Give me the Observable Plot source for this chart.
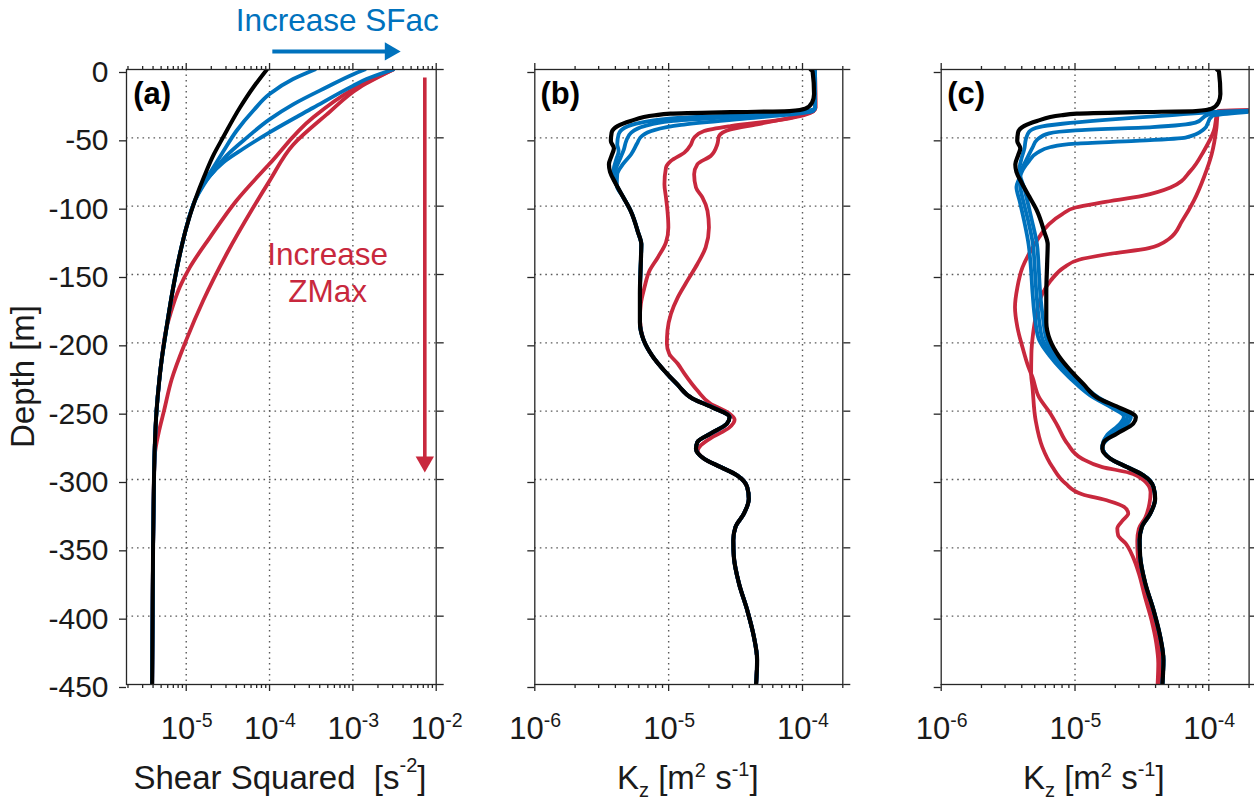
<!DOCTYPE html>
<html><head><meta charset="utf-8">
<script src="https://cdn.jsdelivr.net/npm/d3@7"></script>
<script src="https://cdn.jsdelivr.net/npm/@observablehq/plot@0.6"></script>
<style>
html,body{margin:0;padding:0;background:#fff;}
#fig{position:relative;width:1254px;height:804px;overflow:hidden;font-family:"Liberation Sans",Arial,Helvetica,sans-serif;color:#1a1a1a;background:#fff;}
.panel{position:absolute;top:0;height:804px;}
.lab{position:absolute;white-space:nowrap;font-size:33px;line-height:33px;}
.lab sup,.lab sub{font-size:20px;position:relative;vertical-align:baseline;line-height:0;}
</style></head><body><div id="fig"></div>
<script>
// ---------------- data ----------------
const depthTicks = [0, -50, -100, -150, -200, -250, -300, -350, -400, -450];
const shearExps = [-5, -4, -3, -2];
const kzExps = [-6, -5, -4];

// Panel (a): shear squared [s^-2] vs depth [m]  ([depth, value])
const shearControl = [[0,9.3e-5],[-13,6.4e-5],[-28,4.4e-5],[-50,2.75e-5],[-62,2.15e-5],[-78,1.65e-5],[-96,1.27e-5],[-116,1.0e-5],[-135,8.4e-6],[-159,7.0e-6],[-189,5.8e-6],[-213,5.06e-6],[-228,4.74e-6],[-250,4.4e-6],[-275,4.2e-6],[-300,4.1e-6],[-350,4.0e-6],[-400,3.95e-6],[-450,3.9e-6]];
const shearSFac1 = [[0,3.5e-4],[-7,1.92e-4],[-18,1.0e-4],[-30,6.4e-5],[-45,4.0e-5],[-60,2.78e-5],[-74,2.0e-5],[-84,1.57e-5]];
const shearSFac2 = [[0,1.39e-3],[-3.6,1.0e-3],[-13,4.83e-4],[-25.5,1.92e-4],[-36.5,1.0e-4],[-50,5.3e-5],[-63,3.05e-5],[-75,2.1e-5],[-84,1.6e-5]];
const shearSFac3 = [[0,3.05e-3],[-7,1.46e-3],[-12,1.0e-3],[-28,3.34e-4],[-46,1.0e-4],[-58,4.83e-5],[-68,2.78e-5],[-78,1.92e-5],[-85,1.6e-5]];
const shearZMax1 = [[0,3.05e-3],[-14.6,1.0e-3],[-35,3.35e-4],[-69,1.0e-4],[-96,4.0e-5],[-123,1.92e-5],[-145,1.1e-5],[-159,8.4e-6],[-172,7.0e-6],[-184,6.1e-6]];
const shearZMax2 = [[0,3.05e-3],[-13,1.21e-3],[-33,4.83e-4],[-55,1.92e-4],[-81.5,1.0e-4],[-101,6.37e-5],[-135,3.05e-5],[-169,1.6e-5],[-198,1.0e-5],[-227,6.67e-6],[-250,5.4e-6],[-265,4.7e-6],[-282,4.2e-6]];

// Panel (b) and (c): Kz [m^2 s^-1] vs depth [m]
const kzControl = [[0,1.15e-4],[-1.5,1.19e-4],[-18,1.22e-4],[-24,1.18e-4],[-28.7,1.05e-4],[-30.4,8.0e-5],[-31.2,2.9e-5],[-32.3,1.03e-5],[-33.5,7.9e-6],[-37.7,5.2e-6],[-41.4,4.15e-6],[-46.2,3.75e-6],[-52.3,3.7e-6],[-57.7,3.9e-6],[-63,3.75e-6],[-69.3,3.58e-6],[-75,3.65e-6],[-83,4.0e-6],[-93,4.55e-6],[-103.4,5.2e-6],[-119,5.9e-6],[-128,6.25e-6],[-140,6.2e-6],[-164,6.1e-6],[-185,6.1e-6],[-198,6.5e-6],[-210,7.6e-6],[-220,9.2e-6],[-230,1.15e-5],[-241,1.52e-5],[-247,2.1e-5],[-254.4,2.85e-5],[-259.2,2.72e-5],[-266.5,2.05e-5],[-272.6,1.64e-5],[-277.5,1.6e-5],[-284.8,1.84e-5],[-290.9,2.45e-5],[-297,3.25e-5],[-305.5,3.86e-5],[-314,3.97e-5],[-325,3.65e-5],[-334.7,3.16e-5],[-344.4,3.04e-5],[-356.6,3.07e-5],[-376,3.35e-5],[-395.5,3.86e-5],[-415,4.33e-5],[-432,4.58e-5],[-450,4.5e-5]];

const kzB_SFac1 = [[0,1.24e-4],[-28,1.24e-4],[-29.2,1.2e-4],[-32.8,5.1e-5],[-35.3,1.24e-5],[-38.9,6.24e-6],[-42.6,4.69e-6],[-47.4,4.23e-6],[-54.7,4.13e-6],[-59.6,4.23e-6],[-65.7,4.06e-6],[-71.8,3.9e-6],[-77.9,3.84e-6],[-85,4.1e-6]];
const kzB_SFac2 = [[0,1.24e-4],[-28,1.24e-4],[-30,1.2e-4],[-34,3.86e-5],[-37.7,1.04e-5],[-41.4,6.6e-6],[-46.2,5.25e-6],[-52.3,4.82e-6],[-58.4,4.63e-6],[-64.5,4.37e-6],[-71.8,4.06e-6],[-77.9,3.9e-6],[-85,4.1e-6]];
const kzB_SFac3 = [[0,1.24e-4],[-28,1.24e-4],[-30.4,1.2e-4],[-35.8,3.86e-5],[-40.6,1.24e-5],[-44.3,7.8e-6],[-49.1,6.24e-6],[-54,5.82e-6],[-62,5.25e-6],[-69.3,4.55e-6],[-76.6,4.13e-6],[-85,4.1e-6]];
const kzB_ZMax1 = [[0,1.24e-4],[-28,1.25e-4],[-30.4,1.21e-4],[-36.5,7.2e-5],[-41.4,2.9e-5],[-45,1.84e-5],[-49.9,1.55e-5],[-54.7,1.47e-5],[-60.8,1.31e-5],[-66.9,1.04e-5],[-71.8,9.55e-6],[-83.9,9.3e-6],[-93.7,9.55e-6],[-103.4,9.8e-6],[-115.6,9.95e-6],[-126.5,9.55e-6],[-137.5,8.3e-6],[-147.2,7.2e-6],[-159.4,6.6e-6],[-171.5,6.2e-6],[-182.5,6.1e-6]];
const kzB_ZMax2 = [[0,1.24e-4],[-28,1.25e-4],[-30.4,1.21e-4],[-35.3,8.1e-5],[-40.1,4.58e-5],[-43.8,2.9e-5],[-48.7,2.38e-5],[-54.7,2.31e-5],[-63.3,2.06e-5],[-69.3,1.64e-5],[-76.6,1.55e-5],[-86.4,1.6e-5],[-93.7,1.79e-5],[-103.4,1.95e-5],[-115.6,2.0e-5],[-130.2,1.89e-5],[-142.3,1.64e-5],[-154.5,1.38e-5],[-166.7,1.17e-5],[-178.8,1.04e-5],[-191,9.8e-6],[-200.7,9.7e-6],[-208,1.01e-5],[-215.3,1.17e-5],[-222,1.3e-5],[-234.9,1.64e-5],[-244.6,2.06e-5],[-250.7,2.74e-5],[-256.3,3.11e-5],[-262.2,2.82e-5],[-269,2.12e-5],[-275,1.74e-5],[-279,1.65e-5]];

const kzC_SFac1 = [[0,4e-4],[-29.5,2.5e-4],[-31.1,1.06e-4],[-33.6,5.03e-5],[-37,1.6e-5],[-39.7,8.04e-6],[-42.1,5.38e-6],[-45.5,4.54e-6],[-51.1,4.29e-6],[-57.7,4.19e-6],[-64.5,4.0e-6],[-71.8,3.86e-6],[-78,3.9e-6],[-86,4.15e-6],[-96,4.4e-6],[-110,4.75e-6],[-128,5.2e-6],[-145,5.35e-6],[-164,5.5e-6],[-184,5.8e-6],[-198,6.15e-6],[-209,7.2e-6],[-220,9.0e-6],[-230,1.12e-5],[-240,1.5e-5],[-248,2.1e-5],[-254,2.62e-5],[-259,2.47e-5],[-268,1.87e-5],[-276,1.6e-5]];
const kzC_SFac2 = [[0,4e-4],[-29.5,2.5e-4],[-32.8,1.0e-4],[-38.9,7.95e-5],[-42.1,3.78e-5],[-44.5,1.01e-5],[-46.7,6.4e-6],[-51.1,5.24e-6],[-57.2,4.81e-6],[-64.5,4.41e-6],[-71.8,4.05e-6],[-78,3.86e-6],[-86,3.9e-6],[-96,4.1e-6],[-110,4.45e-6],[-128,4.85e-6],[-145,5.0e-6],[-164,5.15e-6],[-184,5.4e-6],[-198,5.75e-6],[-209,6.8e-6],[-220,8.5e-6],[-230,1.07e-5],[-240,1.43e-5],[-248,2.01e-5],[-254,2.46e-5],[-259,2.32e-5],[-268,1.79e-5],[-276,1.6e-5]];
const kzC_SFac3 = [[0,4e-4],[-29.5,2.5e-4],[-34.1,1.06e-4],[-43.8,9.18e-5],[-49.9,6.7e-5],[-52.3,2.84e-5],[-54.3,1.01e-5],[-56.7,6.58e-6],[-60.8,5.24e-6],[-66.9,4.54e-6],[-73,4.09e-6],[-79,3.86e-6],[-86,3.65e-6],[-96,3.85e-6],[-110,4.15e-6],[-128,4.5e-6],[-145,4.68e-6],[-164,4.82e-6],[-184,5.05e-6],[-198,5.4e-6],[-209,6.4e-6],[-220,8.0e-6],[-230,1.02e-5],[-240,1.37e-5],[-248,1.92e-5],[-254,2.32e-5],[-259,2.18e-5],[-268,1.72e-5],[-276,1.6e-5]];
const kzC_ZMax1 = [[0,4e-4],[-29.5,2.5e-4],[-30.4,1.17e-4],[-45,1.09e-4],[-59.6,9.18e-5],[-74.2,7.3e-5],[-86.4,5.17e-5],[-92.5,3.18e-5],[-97.3,1.6e-5],[-101,1.01e-5],[-105.8,8.04e-6],[-113.1,6.4e-6],[-122.9,5.38e-6],[-132.6,4.67e-6],[-144.8,4.05e-6],[-159.4,3.71e-6],[-174,3.56e-6],[-188.6,3.71e-6],[-203.2,4.05e-6],[-217.8,4.49e-6],[-225.2,4.81e-6],[-239.8,5.38e-6],[-252,6.58e-6],[-260.5,7.38e-6],[-273.8,8.77e-6],[-284.8,1.13e-5],[-290.9,1.6e-5],[-295,2.53e-5],[-300.6,3.27e-5],[-309.1,3.67e-5],[-317.6,3.6e-5],[-328,3.35e-5],[-336,3.0e-5],[-345,2.92e-5],[-357,2.95e-5],[-376,3.22e-5],[-396,3.72e-5],[-415,4.15e-5],[-432,4.38e-5],[-450,4.3e-5]];
const kzC_ZMax2 = [[0,4e-4],[-29.5,2.5e-4],[-30.4,1.17e-4],[-42.6,1.14e-4],[-62,1.05e-4],[-79,9.18e-5],[-96,7.73e-5],[-110.7,6.33e-5],[-124,5.03e-5],[-130.7,3.56e-5],[-135,1.79e-5],[-139.2,1.07e-5],[-144.8,8.28e-6],[-154.5,6.58e-6],[-164.2,5.7e-6],[-178.8,5.14e-6],[-193.4,4.86e-6],[-208,4.72e-6],[-222.6,4.7e-6],[-232.5,4.81e-6],[-256.8,5.08e-6],[-276.3,5.7e-6],[-290.9,6.78e-6],[-303,8.51e-6],[-310.8,1.13e-5],[-315.7,1.79e-5],[-320,2.32e-5],[-324.9,2.5e-5],[-329.8,2.28e-5],[-335.9,2.07e-5],[-340.8,2.1e-5],[-346.8,2.39e-5],[-356.6,2.71e-5],[-368.7,3.0e-5],[-385.8,3.33e-5],[-402.8,3.73e-5],[-419.8,4.05e-5],[-434.4,4.19e-5],[-450,4.14e-5]];

// annotations (panel a), in data units
const sfacArrow = {x1: 1.08e-4, x2: 2.7e-3, tip: 3.74e-3, depth: 13.2};
const zmaxArrow = {x: 7.3e-3, y1: -5.9, y2: -287.5, tip: -294.8};
const sfacLabel = [{x: 6.5e-4, depth: 28.0, text: "Increase SFac"}];
const zmaxLabel = [{x: 4.97e-4, depth: -143.4, text: "Increase"}, {x: 4.97e-4, depth: -170.3, text: "ZMax"}];

// ---------------- drawing ----------------
const FONT = '"Liberation Sans", Arial, Helvetica, sans-serif';
const INK = "#1a1a1a", AXIS = "#262626", GRID = "#5a5a5a";
const BLUE = "#0072BD", RED = "#C8283D", BLACK = "#000000";
const fig = document.getElementById("fig");

function withTail(series, base) {
  const last = series[series.length - 1][0];
  return series.concat(base.filter(p => p[0] < last - 3));
}

function buildPanel(cfg) {
  const {left, width, mLeft, mRight, xDomain, exps, lines, letter, letterDx, yLabels, extra} = cfg;
  const majors = [], minors = [];
  for (let e = -7; e <= -1; e++) for (let m = 1; m <= 9; m++) {
    const v = m * Math.pow(10, e);
    if (v < xDomain[0] * 0.999 || v > xDomain[1] * 1.001) continue;
    (m === 1 ? majors : minors).push(v);
  }
  const gridXs = majors.filter(v => v > xDomain[0] * 1.01 && v < xDomain[1] * 0.99);
  const lineMarks = lines.map(l => Plot.line(l.data, {x: d => d[1], y: d => d[0], stroke: l.color, strokeWidth: l.w || 3.8, curve: "monotone-y", clip: true}));
  const axisStyle = {stroke: AXIS, strokeWidth: 1.3, label: null};
  const chart = Plot.plot({
    width, height: 804,
    marginLeft: mLeft, marginRight: mRight, marginTop: 69, marginBottom: 120,
    style: {fontFamily: FONT, fontSize: "30px", color: INK, background: "transparent", overflow: "visible"},
    x: {type: "log", domain: xDomain, axis: null},
    y: {domain: [-450, 0], axis: null},
    marks: [
      Plot.gridX(gridXs, {stroke: GRID, strokeOpacity: 1, strokeWidth: 1.4, strokeDasharray: "1.6,3.9"}),
      Plot.gridY(depthTicks.filter(d => d !== 0 && d !== -450), {stroke: GRID, strokeOpacity: 1, strokeWidth: 1.4, strokeDasharray: "1.6,3.9"}),
      ...lineMarks,
      Plot.frame({stroke: AXIS, strokeWidth: 1.3}),
      Plot.axisX({anchor: "bottom", ticks: majors, tickSize: 7, tickFormat: () => "", ...axisStyle}),
      Plot.axisX({anchor: "bottom", ticks: minors, tickSize: 4, tickFormat: () => "", ...axisStyle}),
      Plot.axisX({anchor: "top", ticks: majors, tickSize: 7, tickFormat: () => "", ...axisStyle}),
      Plot.axisX({anchor: "top", ticks: minors, tickSize: 4, tickFormat: () => "", ...axisStyle}),
      Plot.axisY({anchor: "left", ticks: depthTicks, tickSize: 7, tickPadding: 11, dy: 3, fontSize: 30,
        tickFormat: yLabels ? (d => String(d)) : (() => ""), ...axisStyle}),
      Plot.axisY({anchor: "right", ticks: depthTicks, tickSize: 7, tickFormat: () => "", ...axisStyle}),
      Plot.text(exps, {x: e => Math.pow(10, e), frameAnchor: "bottom", text: () => "10", textAnchor: "end",
        dx: 9, dy: 54, lineAnchor: "bottom", fontSize: 31, fill: INK}),
      Plot.text(exps, {x: e => Math.pow(10, e), frameAnchor: "bottom", text: e => String(e), textAnchor: "start",
        dx: 9, dy: 42.5, lineAnchor: "bottom", fontSize: 19.5, fill: INK}),
      Plot.text([letter], {frameAnchor: "top-left", text: d => d, dx: letterDx, dy: 34, lineAnchor: "bottom",
        textAnchor: "start", fontWeight: "bold", fontSize: 31, fill: "#000"}),
      ...(extra || [])
    ]
  });
  const holder = document.createElement("div");
  holder.className = "panel";
  holder.style.left = left + "px";
  holder.style.width = width + "px";
  holder.appendChild(chart);
  fig.appendChild(holder);
}

// panel (a)
buildPanel({
  left: 0, width: 470, mLeft: 126, mRight: 470 - 435.7,
  xDomain: [1.92e-6, 1e-2], exps: shearExps, letter: "(a)", letterDx: 6.7, yLabels: true,
  lines: [
    {data: withTail(shearZMax2, shearControl), color: RED},
    {data: withTail(shearZMax1, shearControl), color: RED},
    {data: withTail(shearSFac3, shearControl), color: BLUE},
    {data: withTail(shearSFac2, shearControl), color: BLUE},
    {data: withTail(shearSFac1, shearControl), color: BLUE},
    {data: shearControl, color: BLACK, w: 4}
  ],
  extra: [
    Plot.link([sfacArrow], {x1: "x1", x2: "x2", y1: "depth", y2: "depth", stroke: BLUE, strokeWidth: 4}),
    Plot.dot([sfacArrow], {x: "tip", y: "depth", symbol: "triangle", r: 6.8, rotate: 90, dx: -10.5, fill: BLUE, stroke: "none"}),
    Plot.link([zmaxArrow], {x1: "x", x2: "x", y1: "y1", y2: "y2", stroke: RED, strokeWidth: 3.6}),
    Plot.dot([zmaxArrow], {x: "x", y: "tip", symbol: "triangle", r: 6.8, rotate: 180, dy: -10.5, fill: RED, stroke: "none"}),
    Plot.text(sfacLabel, {x: "x", y: "depth", text: "text", lineAnchor: "bottom", fontSize: 31.5, fill: BLUE}),
    Plot.text(zmaxLabel, {x: "x", y: "depth", text: "text", lineAnchor: "bottom", fontSize: 31.5, fill: RED})
  ]
});

// panel (b)
buildPanel({
  left: 470, width: 400, mLeft: 534.3 - 470, mRight: 870 - 842.3,
  xDomain: [1e-6, 2e-4], exps: kzExps, letter: "(b)", letterDx: 5.7, yLabels: false,
  lines: [
    {data: withTail(kzB_ZMax2, kzControl), color: RED},
    {data: withTail(kzB_ZMax1, kzControl), color: RED},
    {data: withTail(kzB_SFac3, kzControl), color: BLUE},
    {data: withTail(kzB_SFac2, kzControl), color: BLUE},
    {data: withTail(kzB_SFac1, kzControl), color: BLUE},
    {data: kzControl, color: BLACK, w: 4.2}
  ]
});

// panel (c)
buildPanel({
  left: 870, width: 384, mLeft: 940.7 - 870, mRight: 1254 - 1248.6,
  xDomain: [1e-6, 2e-4], exps: kzExps, letter: "(c)", letterDx: 6, yLabels: false,
  lines: [
    {data: kzC_ZMax2, color: RED},
    {data: kzC_ZMax1, color: RED},
    {data: withTail(kzC_SFac3, kzControl), color: BLUE},
    {data: withTail(kzC_SFac2, kzControl), color: BLUE},
    {data: withTail(kzC_SFac1, kzControl), color: BLUE},
    {data: kzControl, color: BLACK, w: 4.2}
  ]
});

// axis titles (rich text with super/subscripts)
function addLabel(html, cx, baseline, rotate) {
  const el = document.createElement("div");
  el.className = "lab";
  el.innerHTML = html;
  fig.appendChild(el);
  const w = el.offsetWidth;
  if (rotate) {
    el.style.left = (cx - w / 2) + "px";
    el.style.top = (baseline - 16.5) + "px";
    el.style.transform = "rotate(-90deg)";
    el.style.transformOrigin = "50% 50%";
  } else {
    el.style.left = (cx - w / 2) + "px";
    el.style.top = (baseline - 27.5) + "px";
  }
}
addLabel('Shear Squared&nbsp;&nbsp;[s<sup style="top:-17px">-2</sup>]', 280, 788);
addLabel('K<sub style="top:8px">z</sub> [m<sup style="top:-12px">2</sup> s<sup style="top:-13px">-1</sup>]', 688, 788);
addLabel('K<sub style="top:8px">z</sub> [m<sup style="top:-12px">2</sup> s<sup style="top:-13px">-1</sup>]', 1094, 788);
addLabel('Depth [m]', 22, 376, true);
</script>
</body></html>
